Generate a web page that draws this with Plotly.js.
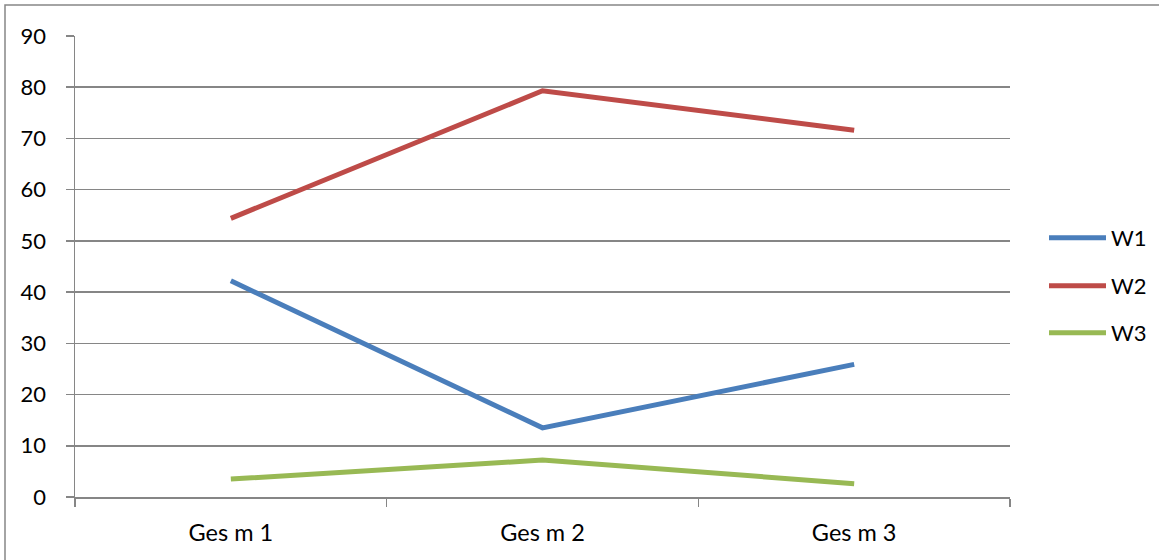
<!DOCTYPE html>
<html>
<head>
<meta charset="utf-8">
<script src="https://cdn.plot.ly/plotly-3.0.1.min.js"></script>
<style>html,body{margin:0;padding:0;background:#fff;}#chart{width:1159px;height:560px;}</style>
</head>
<body>
<div id="chart"></div>
<script>
const categories = ["Ges m 1", "Ges m 2", "Ges m 3"];
const seriesNames = ["W1", "W2", "W3"];
const w1 = [42.2, 13.5, 25.9];
const w2 = [54.4, 79.3, 71.6];
const w3 = [3.5, 7.2, 2.6];
const yTicks = [0, 10, 20, 30, 40, 50, 60, 70, 80, 90];

const colors = ["#4A7EBB", "#BE4B48", "#98B954"];
const values = [w1, w2, w3];
const legendIds = ["legend", "legend2", "legend3"];

const W = 1159, H = 560;
const mL = 75, mR = W - 1010, mT = 36, mB = H - 497;
const pw = W - mL - mR, ph = H - mT - mB;
const px = x => (x - mL) / pw;
const py = y => (H - mB - y) / ph;

const traces = values.map((v, i) => ({
  type: "scatter",
  mode: "lines",
  x: categories,
  y: v,
  name: seriesNames[i],
  legend: legendIds[i],
  line: {color: colors[i], width: 5},
  hoverinfo: "x+y+name"
}));

const legendCenters = [238, 286, 333];
const legendCommon = {
  xanchor: "left", yanchor: "middle",
  bgcolor: "rgba(0,0,0,0)", borderwidth: 0,
  font: {family: "Lato, 'Open Sans', sans-serif", size: 22, color: "#000"},
  itemwidth: 57
};

const layout = {
  width: W, height: H,
  margin: {l: mL, r: mR, t: mT, b: mB, pad: 0, autoexpand: false},
  paper_bgcolor: "#fff",
  plot_bgcolor: "#fff",
  font: {family: "Lato, 'Open Sans', sans-serif", size: 22, color: "#000"},
  showlegend: true,
  xaxis: {
    type: "category",
    range: [-0.5, 2.5],
    showgrid: false,
    zeroline: false,
    showline: true,
    linecolor: "#868686",
    linewidth: 1.5,
    ticks: "outside",
    tickson: "boundaries",
    ticklen: 8,
    tickwidth: 1.5,
    tickcolor: "#868686",
    ticklabelstandoff: 14,
    tickfont: {size: 23.5}
  },
  yaxis: {
    range: [0, 90],
    tickvals: yTicks,
    ticktext: yTicks.map(String),
    showgrid: true,
    gridcolor: "#868686",
    gridwidth: 1.5,
    zeroline: false,
    showline: true,
    linecolor: "#868686",
    linewidth: 1.5,
    ticks: "outside",
    ticklen: 8,
    tickwidth: 1.5,
    tickcolor: "#868686",
    ticklabelstandoff: 15,
    tickfont: {size: 22}
  },
  shapes: [{
    type: "rect", xref: "paper", yref: "paper",
    x0: px(5), x1: px(W + 20), y0: py(H + 20), y1: py(5),
    line: {color: "#868686", width: 1.5},
    fillcolor: "rgba(0,0,0,0)",
    layer: "below"
  }]
};
legendIds.forEach((id, i) => {
  layout[id] = Object.assign({}, legendCommon, {x: px(1044), y: py(legendCenters[i])});
});

Plotly.newPlot("chart", traces, layout, {displayModeBar: false, staticPlot: true});
</script>
</body>
</html>
